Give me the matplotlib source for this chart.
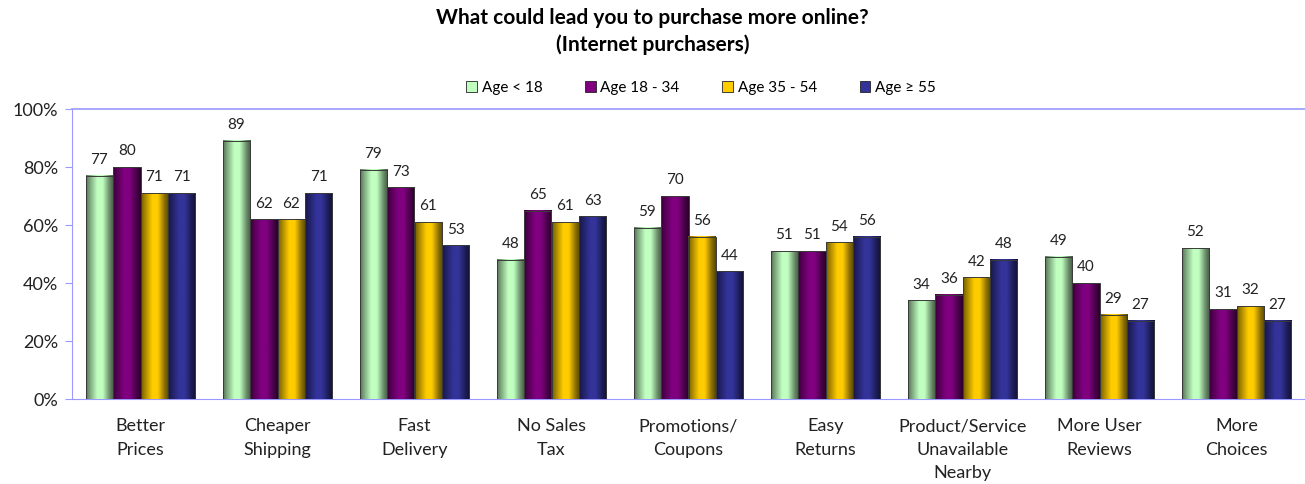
import numpy as np
import matplotlib
matplotlib.use("Agg")
import matplotlib.pyplot as plt
from matplotlib.patches import Patch
from matplotlib.colors import to_rgb

plt.rcParams['font.family'] = ['Lato', 'DejaVu Sans']

categories = ["Better\nPrices", "Cheaper\nShipping", "Fast\nDelivery", "No Sales\nTax",
              "Promotions/\nCoupons", "Easy\nReturns", "Product/Service\nUnavailable\nNearby",
              "More User\nReviews", "More\nChoices"]
series_names = ["Age < 18", "Age 18 - 34", "Age 35 - 54", "Age \u2265 55"]
age_lt18 = [77, 89, 79, 48, 59, 51, 34, 49, 52]
age_18_34 = [80, 62, 73, 65, 70, 51, 36, 40, 31]
age_35_54 = [71, 62, 61, 61, 56, 54, 42, 29, 32]
age_ge55 = [71, 71, 53, 63, 44, 56, 48, 27, 27]
series = [age_lt18, age_18_34, age_35_54, age_ge55]
colors = ["#c0ffc0", "#800080", "#ffcc00", "#333399"]
yticks = [0, 20, 40, 60, 80, 100]
ytick_labels = ["0%", "20%", "40%", "60%", "80%", "100%"]

fig = plt.figure(figsize=(13.05, 4.84), dpi=100)
ax = fig.add_axes([72 / 1305, 1 - 399 / 484, (1305 - 72) / 1305, (399 - 109) / 484])

x = np.arange(len(categories))
width = 0.2
tt = np.linspace(0, 1, 64)
shade = np.interp(tt, [0, 0.1, 0.4, 0.6, 0.85, 1.0], [0.45, 0.6, 1.0, 1.0, 0.55, 0.35])

for i, (vals, col) in enumerate(zip(series, colors)):
    pos = x + (i - 1.5) * width
    bars = ax.bar(pos, vals, width, color=col, edgecolor='none', zorder=2)
    base = np.array(to_rgb(col))
    grad = (shade[:, None] * base[None, :])[None, :, :]
    for b in bars:
        x0, w, h = b.get_x(), b.get_width(), b.get_height()
        ax.imshow(grad, extent=[x0, x0 + w, 0, h], aspect='auto', zorder=3, interpolation='bilinear')
    ax.bar(pos, vals, width, facecolor='none', edgecolor='#3a3a3a', linewidth=0.7, zorder=4)
    for p, v in zip(pos, vals):
        ax.text(p, v + 3, str(v), ha='center', va='bottom', fontsize=11, color='#222222')

ax.set_xlim(-0.5, len(categories) - 0.5)
ax.set_ylim(0, 100)
ax.set_yticks(yticks)
ax.set_yticklabels(ytick_labels, fontsize=13, color='#222222')
ax.set_xticks(x)
ax.set_xticklabels(categories, fontsize=13, color='#222222', linespacing=1.55)
ax.tick_params(axis='x', length=0, pad=14)
ax.tick_params(axis='y', length=5, color='#9999ff', direction='out', pad=5)
for s in ['right', 'top']:
    ax.spines[s].set_visible(False)
ax.spines['left'].set_color('#9999ff')
ax.spines['bottom'].set_color('#9999ff')
ax.axhline(100, color='#9999ff', linewidth=1.2, zorder=1, clip_on=False)

handles = [Patch(facecolor=c, edgecolor='#222222', linewidth=0.6) for c in colors]
fig.legend(handles, series_names, loc='center', bbox_to_anchor=(701 / 1305, 1 - 88 / 484), ncol=4,
           frameon=False, fontsize=11, handlelength=0.7, handleheight=0.7, handletextpad=0.3,
           columnspacing=2.8)

fig.text(0.5, 1 - 18 / 484, "What could lead you to purchase more online?", ha='center', va='center',
         fontsize=15, fontweight='bold')
fig.text(0.5, 1 - 45 / 484, "(Internet purchasers)", ha='center', va='center',
         fontsize=15, fontweight='bold')

fig.savefig("out.png", dpi=100)
